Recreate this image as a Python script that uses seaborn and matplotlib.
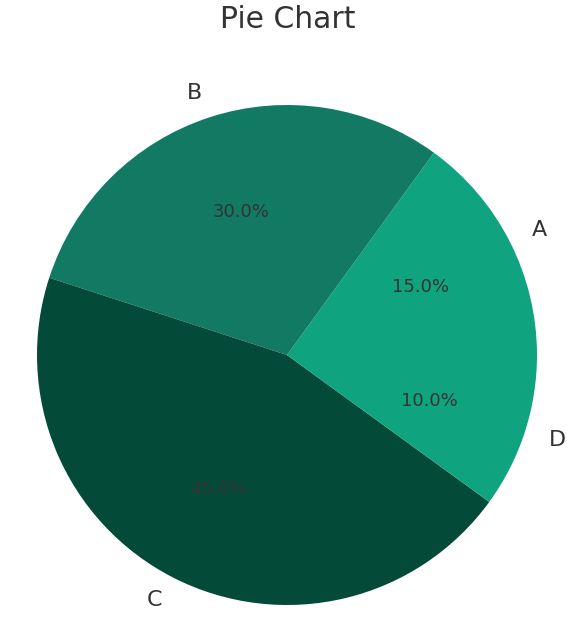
import matplotlib
matplotlib.use("Agg")
import matplotlib.pyplot as plt
import seaborn as sns

labels = ["A", "B", "C", "D"]
shares = [15, 30, 45, 10]
slice_colors = ["#10a37f", "#127a63", "#044a38", "#10a37f"]

sns.set_theme(style="white")
plt.rcParams["font.family"] = ["DejaVu Sans"]

fig = plt.figure(figsize=(5.87, 6.23), dpi=100)
ax = fig.add_axes([0, 0, 1, 1])
ax.pie(
    shares,
    labels=labels,
    colors=slice_colors,
    autopct="%1.1f%%",
    startangle=0,
    pctdistance=0.6,
    labeldistance=1.1,
    wedgeprops={"linewidth": 0, "edgecolor": "none"},
    textprops={"color": "#333333"},
)
for t in ax.texts:
    if "%" in t.get_text():
        t.set_fontsize(13)
    else:
        t.set_fontsize(16)

# pie radius 250 px, centre at (287, 355) from the top-left
ax.set_xlim(-287 / 250, 300 / 250)
ax.set_ylim(-268 / 250, 355 / 250)
ax.axis("off")

fig.text(0.49, 1 - 20 / 623, "Pie Chart", ha="center", va="center",
         fontsize=21.5, color="#333333")

fig.savefig("out.png", dpi=100)
